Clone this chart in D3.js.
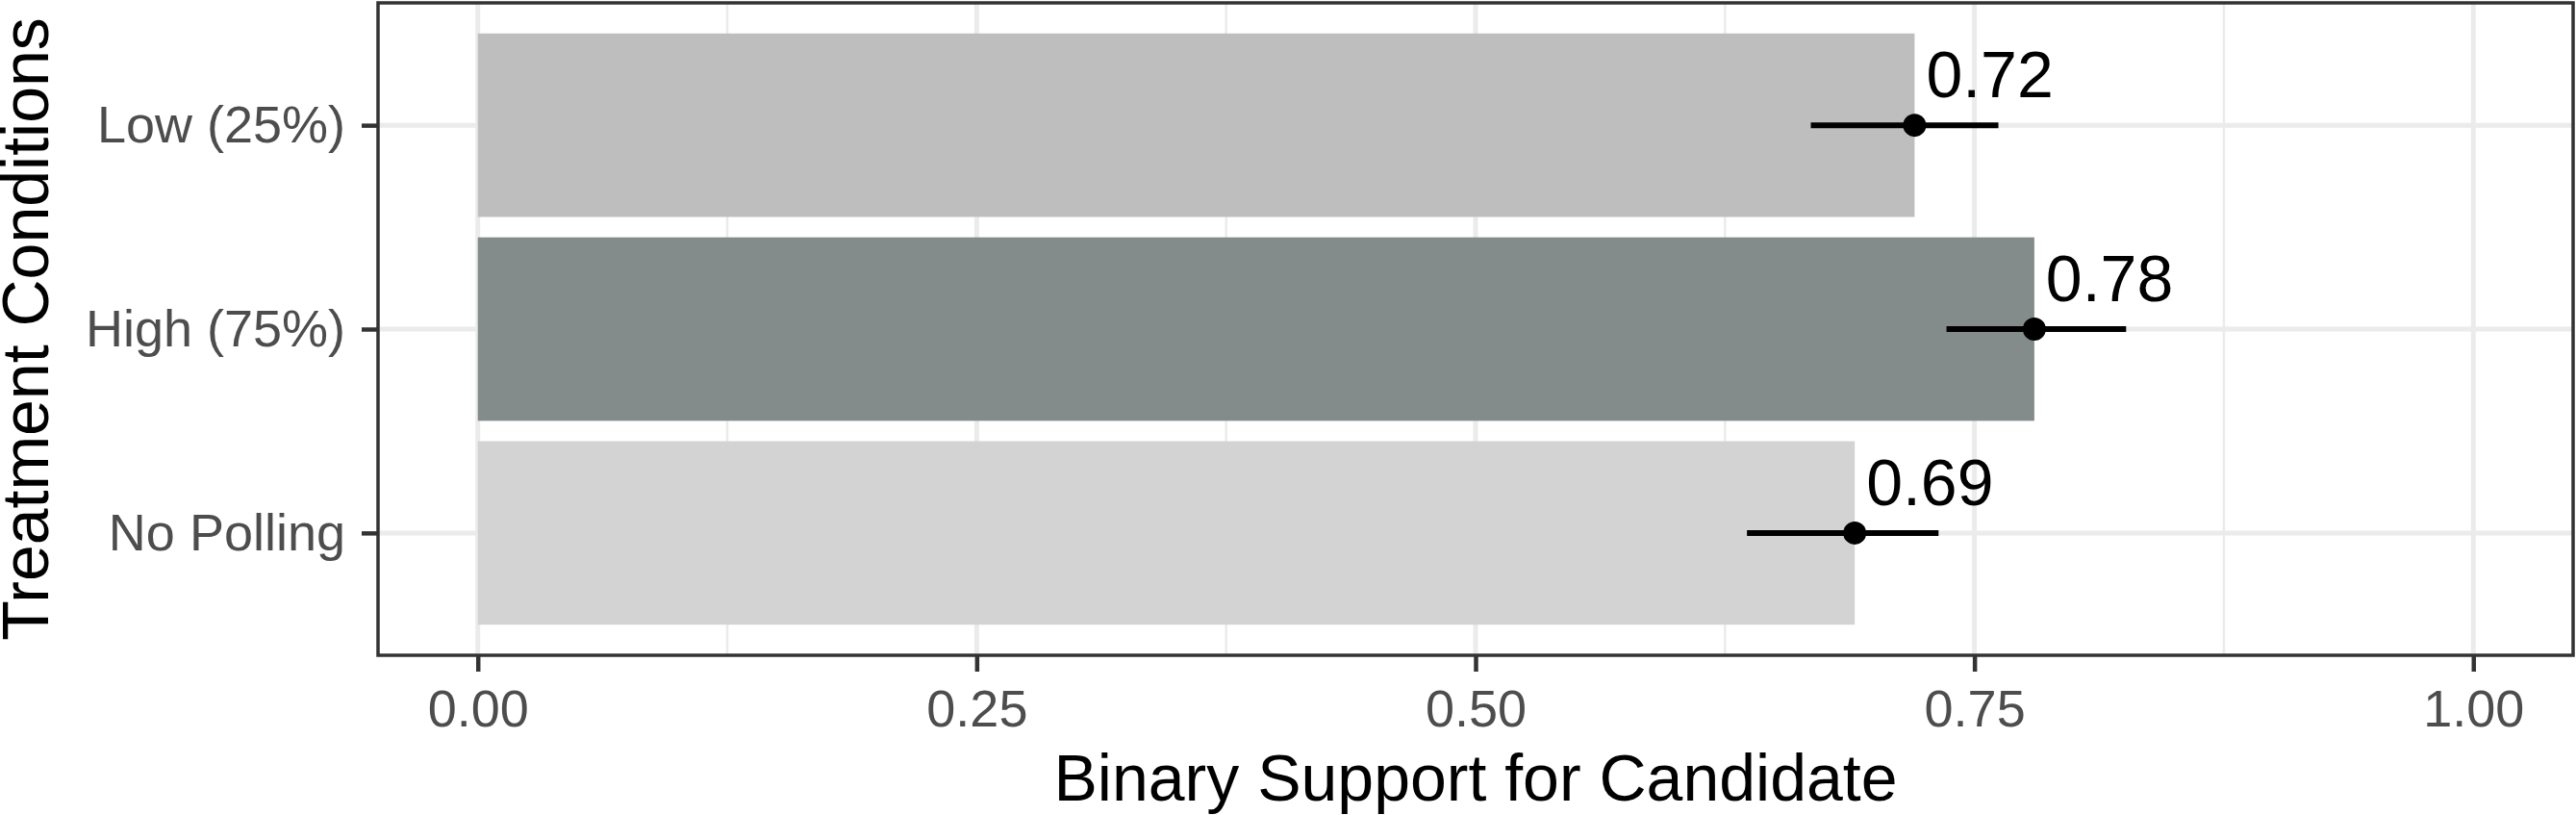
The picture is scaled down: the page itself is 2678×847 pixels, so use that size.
<!DOCTYPE html>
<html>
<head>
<meta charset="utf-8">
<script src="https://cdn.jsdelivr.net/npm/d3@7"></script>
<style>
  html, body { margin: 0; padding: 0; background: #fff; }
  svg { display: block; font-family: "Liberation Sans", Arial, Helvetica, sans-serif; }
</style>
</head>
<body>
<div id="area"></div>
<script>
// data
const conditions = ["Low (25%)", "High (75%)", "No Polling"];
const support = [0.72, 0.78, 0.69];
const ciLow = [0.668, 0.736, 0.636];
const ciHigh = [0.762, 0.826, 0.732];
const barColors = ["#BEBEBE", "#838B8B", "#D3D3D3"];
const xTicks = [0, 0.25, 0.5, 0.75, 1];
const xMinor = [0.125, 0.375, 0.625, 0.875];

const width = 2678, height = 847;
const panel = { left: 393, right: 2675, top: 3, bottom: 681 };

const svg = d3.select("#area").append("svg")
    .attr("width", width)
    .attr("height", height);

svg.append("rect").attr("width", width).attr("height", height).attr("fill", "#fff");

const x = d3.scaleLinear().domain([-0.05, 1.05]).range([panel.left, panel.right]);
const y = d3.scalePoint().domain(conditions).range([panel.top, panel.bottom]).padding(0.6);
const barH = y.step() * 0.9;

const rows = conditions.map((c, i) => ({
    cond: c, value: support[i], lo: ciLow[i], hi: ciHigh[i], color: barColors[i]
}));

// grid
const grid = svg.append("g");
grid.selectAll(".minor").data(xMinor).join("line")
    .attr("x1", d => x(d)).attr("x2", d => x(d))
    .attr("y1", panel.top).attr("y2", panel.bottom)
    .attr("stroke", "#EBEBEB").attr("stroke-width", 2.5);
grid.selectAll(".majx").data(xTicks).join("line")
    .attr("x1", d => x(d)).attr("x2", d => x(d))
    .attr("y1", panel.top).attr("y2", panel.bottom)
    .attr("stroke", "#EBEBEB").attr("stroke-width", 5);
grid.selectAll(".majy").data(conditions).join("line")
    .attr("x1", panel.left).attr("x2", panel.right)
    .attr("y1", d => y(d)).attr("y2", d => y(d))
    .attr("stroke", "#EBEBEB").attr("stroke-width", 5);

// bars
svg.append("g").selectAll("rect").data(rows).join("rect")
    .attr("x", x(0))
    .attr("y", d => y(d.cond) - barH / 2)
    .attr("width", d => x(d.value) - x(0))
    .attr("height", barH)
    .attr("fill", d => d.color);

// error bars + points
const marks = svg.append("g");
marks.selectAll("line").data(rows).join("line")
    .attr("x1", d => x(d.lo)).attr("x2", d => x(d.hi))
    .attr("y1", d => y(d.cond)).attr("y2", d => y(d.cond))
    .attr("stroke", "#000").attr("stroke-width", 6);
marks.selectAll("circle").data(rows).join("circle")
    .attr("cx", d => x(d.value)).attr("cy", d => y(d.cond))
    .attr("r", 12).attr("fill", "#000");

// value labels
svg.append("g").selectAll("text").data(rows).join("text")
    .attr("x", d => x(d.value) + 12)
    .attr("y", d => y(d.cond) - 29)
    .attr("font-size", 68)
    .attr("fill", "#000")
    .text(d => d.value.toFixed(2));

// panel border
svg.append("rect")
    .attr("x", panel.left).attr("y", panel.top)
    .attr("width", panel.right - panel.left).attr("height", panel.bottom - panel.top)
    .attr("fill", "none").attr("stroke", "#333").attr("stroke-width", 3.5);

// axes
const xAxis = svg.append("g")
    .attr("transform", `translate(0,${panel.bottom})`)
    .call(d3.axisBottom(x).tickValues(xTicks).tickFormat(d3.format(".2f")).tickSize(17).tickPadding(19));
const yAxis = svg.append("g")
    .attr("transform", `translate(${panel.left},0)`)
    .call(d3.axisLeft(y).tickSize(17).tickPadding(17));

[xAxis, yAxis].forEach(a => {
    a.select(".domain").remove();
    a.selectAll(".tick line").attr("stroke", "#333").attr("stroke-width", 4.5);
    a.selectAll(".tick text")
        .attr("fill", "#4D4D4D")
        .attr("font-size", 54)
        .attr("font-family", "Liberation Sans, Arial, sans-serif");
});

// axis titles
svg.append("text")
    .attr("x", (panel.left + panel.right) / 2)
    .attr("y", 832)
    .attr("text-anchor", "middle")
    .attr("font-size", 68)
    .attr("fill", "#000")
    .text("Binary Support for Candidate");

svg.append("text")
    .attr("transform", `translate(50,${(panel.top + panel.bottom) / 2}) rotate(-90)`)
    .attr("text-anchor", "middle")
    .attr("font-size", 68)
    .attr("fill", "#000")
    .text("Treatment Conditions");
</script>
</body>
</html>
